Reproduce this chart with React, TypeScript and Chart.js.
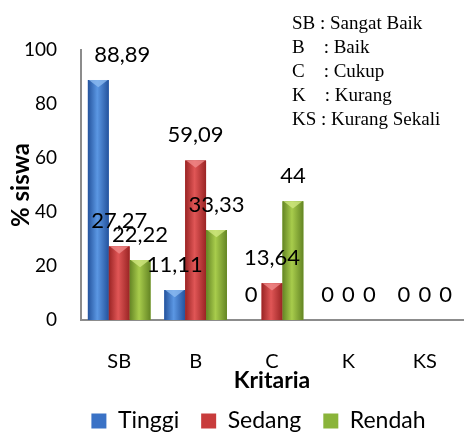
import React, { useEffect, useRef } from "react";
import { Chart, registerables } from "chart.js";

Chart.register(...registerables);

const categories = ["SB", "B", "C", "K", "KS"];
const tinggi = [88.89, 11.11, 0, 0, 0];
const sedang = [27.27, 59.09, 13.64, 0, 0];
const rendah = [22.22, 33.33, 44, 0, 0];
const yTicks = [0, 20, 40, 60, 80, 100];
const noteLines = [
  "SB : Sangat Baik",
  "B    : Baik",
  "C    : Cukup",
  "K    : Kurang",
  "KS : Kurang Sekali",
];

const palette = [
  { base: "#3a72c6", dark: "#24539d", light: "#5b97e3", cap: "#8cbaf0" },
  { base: "#c83c3c", dark: "#9a2424", light: "#e05656", cap: "#f08a8a" },
  { base: "#8ab43a", dark: "#648524", light: "#a8cc4c", cap: "#cfe780" },
];

const fmt = (v: number) => String(v).replace(".", ",");

const barStylePlugin = {
  id: "barStyle",
  afterDatasetsDraw(chart: any) {
    const ctx = chart.ctx;
    chart.data.datasets.forEach((_ds: any, di: number) => {
      const meta = chart.getDatasetMeta(di);
      const p = palette[di];
      meta.data.forEach((el: any) => {
        const { x, y, base, width } = el.getProps(["x", "y", "base", "width"], true);
        const h = base - y;
        if (h < 1) return;
        const l = x - width / 2;
        const r = x + width / 2;
        ctx.save();
        const g = ctx.createLinearGradient(l, 0, r, 0);
        g.addColorStop(0, p.dark);
        g.addColorStop(0.45, p.light);
        g.addColorStop(1, p.dark);
        ctx.fillStyle = g;
        ctx.fillRect(l, y, width, h);
        const capH = Math.min(h, width * 0.35);
        ctx.beginPath();
        ctx.moveTo(l + 1, y);
        ctx.lineTo(r - 1, y);
        ctx.lineTo(x, y + capH);
        ctx.closePath();
        ctx.fillStyle = p.cap;
        ctx.globalAlpha = 0.8;
        ctx.fill();
        ctx.restore();
      });
    });
  },
};

const labelPlugin = {
  id: "valueLabels",
  afterDraw(chart: any) {
    const ctx = chart.ctx;
    ctx.save();
    ctx.font = "22px Lato";
    ctx.fillStyle = "#000";
    ctx.textAlign = "center";
    ctx.textBaseline = "alphabetic";
    chart.data.datasets.forEach((ds: any, di: number) => {
      const meta = chart.getDatasetMeta(di);
      meta.data.forEach((el: any, i: number) => {
        const dx = di === 0 && i === 0 ? 24 : 0;
        ctx.fillText(fmt(ds.data[i]), el.x + dx, el.y - 18);
      });
    });
    ctx.restore();
  },
};

const legendShiftPlugin = {
  id: "legendShift",
  afterLayout(chart: any) {
    const lg = chart.legend;
    if (lg) {
      lg.left += 22;
      lg.right += 22;
    }
  },
};

export default function App() {
  const ref = useRef<HTMLCanvasElement>(null);
  useEffect(() => {
    if (!ref.current) return;
    Chart.defaults.font.family = "Lato";
    const chart = new Chart(ref.current, {
      type: "bar",
      data: {
        labels: categories,
        datasets: [
          { label: "Tinggi", data: tinggi, backgroundColor: palette[0].base },
          { label: "Sedang", data: sedang, backgroundColor: palette[1].base },
          { label: "Rendah", data: rendah, backgroundColor: palette[2].base },
        ],
      },
      options: {
        animation: false,
        responsive: true,
        maintainAspectRatio: false,
        layout: { padding: { top: 50, left: 7, right: 1, bottom: -10.5 } },
        datasets: { bar: { categoryPercentage: 0.82, barPercentage: 1 } },
        scales: {
          x: {
            grid: { display: false, drawTicks: false },
            border: { display: true, color: "#8c8c8c", width: 2 },
            ticks: { color: "#000", font: { size: 20 }, padding: 30 },
            title: {
              display: true,
              text: "Kritaria",
              color: "#000",
              font: { size: 23, weight: "bold" },
              padding: { top: 0, bottom: -7.3 },
            },
            afterFit: (axis: any) => {
              axis.height = 67.5;
            },
          },
          y: {
            min: 0,
            max: 100,
            afterBuildTicks: (axis: any) => {
              axis.ticks = yTicks.map((v) => ({ value: v }));
            },
            grid: { display: false, drawTicks: false },
            border: { display: true, color: "#8c8c8c", width: 2 },
            ticks: { color: "#000", font: { size: 19 }, padding: 24 },
            title: {
              display: true,
              text: "% siswa",
              color: "#000",
              font: { size: 24, weight: "bold" },
              padding: { top: 0, bottom: 0 },
            },
            afterFit: (axis: any) => {
              axis.width = 74;
            },
          },
        },
        plugins: {
          legend: {
            position: "bottom",
            labels: {
              color: "#000",
              font: { size: 23 },
              boxWidth: 15,
              boxHeight: 15,
              padding: 22,
            },
          },
          tooltip: { enabled: false },
        },
      },
      plugins: [barStylePlugin, labelPlugin, legendShiftPlugin],
    } as any);
    return () => chart.destroy();
  }, []);

  return (
    <div style={{ position: "absolute", left: 0, top: 0, width: 467, height: 432, background: "#fff" }}>
      <canvas ref={ref} />
      <div
        style={{
          position: "absolute",
          left: 292,
          top: 11,
          fontFamily: "'Liberation Serif', 'Times New Roman', serif",
          fontSize: 19,
          lineHeight: "24px",
          whiteSpace: "pre",
          color: "#000",
        }}
      >
        {noteLines.map((t, i) => (
          <div key={i}>{t}</div>
        ))}
      </div>
    </div>
  );
}
